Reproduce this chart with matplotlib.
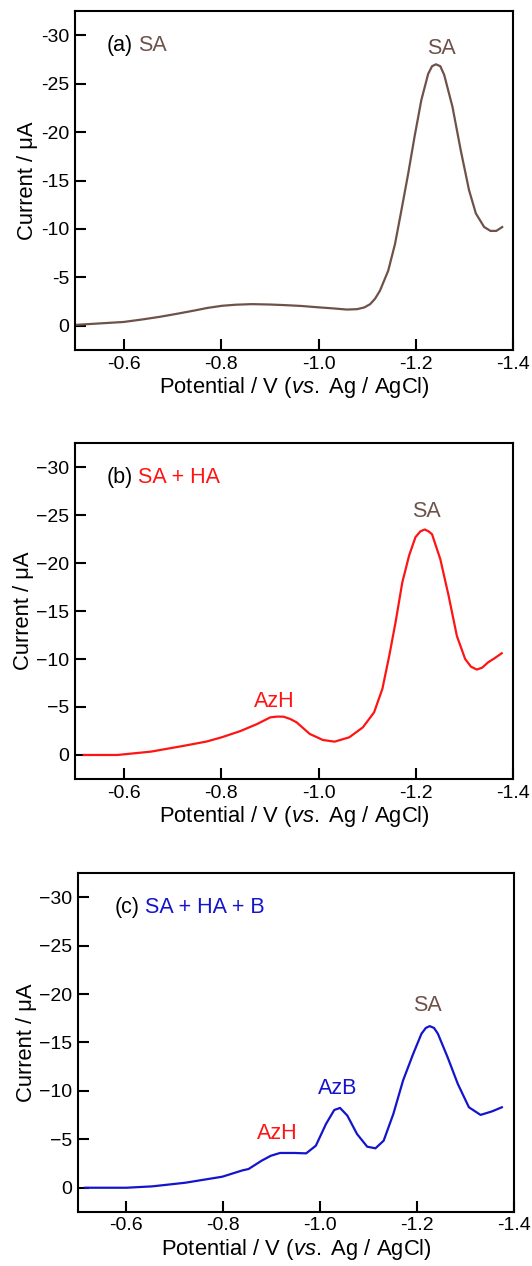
import matplotlib
matplotlib.use("Agg")
import matplotlib.pyplot as plt

plt.rcParams.update({
    "font.family": ["Liberation Sans", "DejaVu Sans"],
    "mathtext.fontset": "custom",
    "mathtext.rm": "Liberation Sans",
    "mathtext.it": "Liberation Sans:italic",
    "axes.linewidth": 1.5,
})

BROWN, RED, BLUE = "#6e524a", "#ff1414", "#1414cc"

# --- data (potential V, current uA) ---
v_a = [-0.502, -0.6, -0.637, -0.674, -0.71, -0.742, -0.772, -0.802, -0.83, -0.863, -0.9,
       -0.93, -0.965, -0.997, -1.03, -1.058, -1.079, -1.094, -1.106, -1.116, -1.126,
       -1.143, -1.157, -1.170, -1.184, -1.197, -1.211, -1.225, -1.233, -1.241, -1.25,
       -1.258, -1.275, -1.292, -1.309, -1.323, -1.340, -1.353, -1.365, -1.377]
i_a = [-0.1, -0.4, -0.65, -0.93, -1.25, -1.55, -1.85, -2.07, -2.18, -2.24, -2.2,
       -2.14, -2.05, -1.92, -1.8, -1.68, -1.72, -1.9, -2.24, -2.8, -3.62,
       -5.69, -8.45, -11.9, -15.7, -19.5, -23.3, -26.0, -26.8, -27.0, -26.8,
       -25.9, -22.6, -18.1, -14.0, -11.6, -10.2, -9.8, -9.8, -10.2]

v_b = [-0.518, -0.587, -0.656, -0.725, -0.77, -0.801, -0.84, -0.874, -0.901, -0.915,
       -0.928, -0.942, -0.955, -0.982, -1.009, -1.033, -1.063, -1.091, -1.114, -1.131,
       -1.145, -1.158, -1.172, -1.186, -1.199, -1.209, -1.218, -1.226, -1.233, -1.250,
       -1.267, -1.284, -1.301, -1.313, -1.325, -1.336, -1.348, -1.362, -1.376]
i_b = [0.0, 0.0, -0.35, -0.97, -1.4, -1.84, -2.5, -3.23, -3.92, -4.0,
       -3.99, -3.75, -3.40, -2.19, -1.56, -1.39, -1.84, -2.88, -4.44, -6.88,
       -10.3, -13.8, -18.0, -20.8, -22.7, -23.3, -23.5, -23.3, -23.0, -20.4,
       -16.6, -12.4, -10.0, -9.2, -8.9, -9.1, -9.65, -10.1, -10.6]

v_c = [-0.515, -0.6, -0.653, -0.722, -0.798, -0.84, -0.852, -0.879, -0.898, -0.917,
       -0.947, -0.971, -0.991, -1.012, -1.029, -1.041, -1.056, -1.076, -1.097, -1.114,
       -1.131, -1.151, -1.171, -1.192, -1.209, -1.218, -1.226, -1.235, -1.243, -1.263,
       -1.284, -1.307, -1.331, -1.355, -1.375]
i_c = [0.0, 0.0, -0.14, -0.52, -1.14, -1.8, -1.93, -2.79, -3.3, -3.59,
       -3.59, -3.55, -4.34, -6.59, -8.03, -8.24, -7.45, -5.55, -4.24, -4.07,
       -4.86, -7.62, -11.07, -13.83, -15.9, -16.5, -16.69, -16.5, -15.9, -13.48,
       -10.73, -8.31, -7.52, -7.89, -8.31]

xticks = [-0.6, -0.8, -1.0, -1.2, -1.4]
xticklabels = ["-0.6", "-0.8", "-1.0", "-1.2", "-1.4"]
yticks = [0, -5, -10, -15, -20, -25, -30]
yticklabels_a = ["0", "-5", "-10", "-15", "-20", "-25", "-30"]
yticklabels_bc = ["0", "\u22125", "\u221210", "\u221215", "\u221220", "\u221225", "\u221230"]

fig = plt.figure(figsize=(5.32, 12.66), dpi=100)
ax_a = fig.add_axes([0.141, 0.7235, 0.824, 0.2678])
ax_b = fig.add_axes([0.141, 0.3847, 0.824, 0.2653])
ax_c = fig.add_axes([0.1466, 0.0427, 0.8195, 0.2677])

FS = 15.5


def style(ax, ylabels):
    ax.set_xlim(-0.5, -1.4)
    ax.set_ylim(2.5, -32.5)
    ax.set_xticks(xticks)
    ax.set_xticklabels(xticklabels)
    ax.set_yticks(yticks)
    ax.set_yticklabels(ylabels)
    ax.tick_params(direction="in", length=8, width=1.5, labelsize=14, pad=4)
    ax.set_xlabel("Potential / V ($\\mathit{vs.}$ Ag / AgCl)", fontsize=15.8, labelpad=2)
    ax.set_ylabel("Current / \u03bcA", fontsize=15.8, labelpad=2)


def tag(ax, x, letter, name, color):
    t = ax.text(x, 0.897, letter, transform=ax.transAxes, fontsize=FS,
                color="black", va="center", ha="left")
    ax.annotate(name, xy=(1, 0.5), xycoords=t, xytext=(4, 0), textcoords="offset points",
                fontsize=FS, color=color, va="center", ha="left")


ax_a.plot(v_a, i_a, color=BROWN, lw=1.6)
style(ax_a, yticklabels_a)
tag(ax_a, 0.072, "(a)", "SA", BROWN)
ax_a.text(-1.253, -28.6, "SA", color=BROWN, fontsize=FS, ha="center", va="center")

ax_b.plot(v_b, i_b, color=RED, lw=1.6)
style(ax_b, yticklabels_bc)
tag(ax_b, 0.072, "(b)", "SA + HA", RED)
ax_b.text(-1.221, -25.4, "SA", color=BROWN, fontsize=FS, ha="center", va="center")
ax_b.text(-0.910, -5.55, "AzH", color=RED, fontsize=FS, ha="center", va="center")

ax_c.plot(v_c, i_c, color=BLUE, lw=1.6)
style(ax_c, yticklabels_bc)
tag(ax_c, 0.083, "(c)", "SA + HA + B", BLUE)
ax_c.text(-1.222, -18.8, "SA", color=BROWN, fontsize=FS, ha="center", va="center")
ax_c.text(-1.035, -10.2, "AzB", color=BLUE, fontsize=FS, ha="center", va="center")
ax_c.text(-0.911, -5.55, "AzH", color=RED, fontsize=FS, ha="center", va="center")

fig.savefig("out.png", dpi=100)
